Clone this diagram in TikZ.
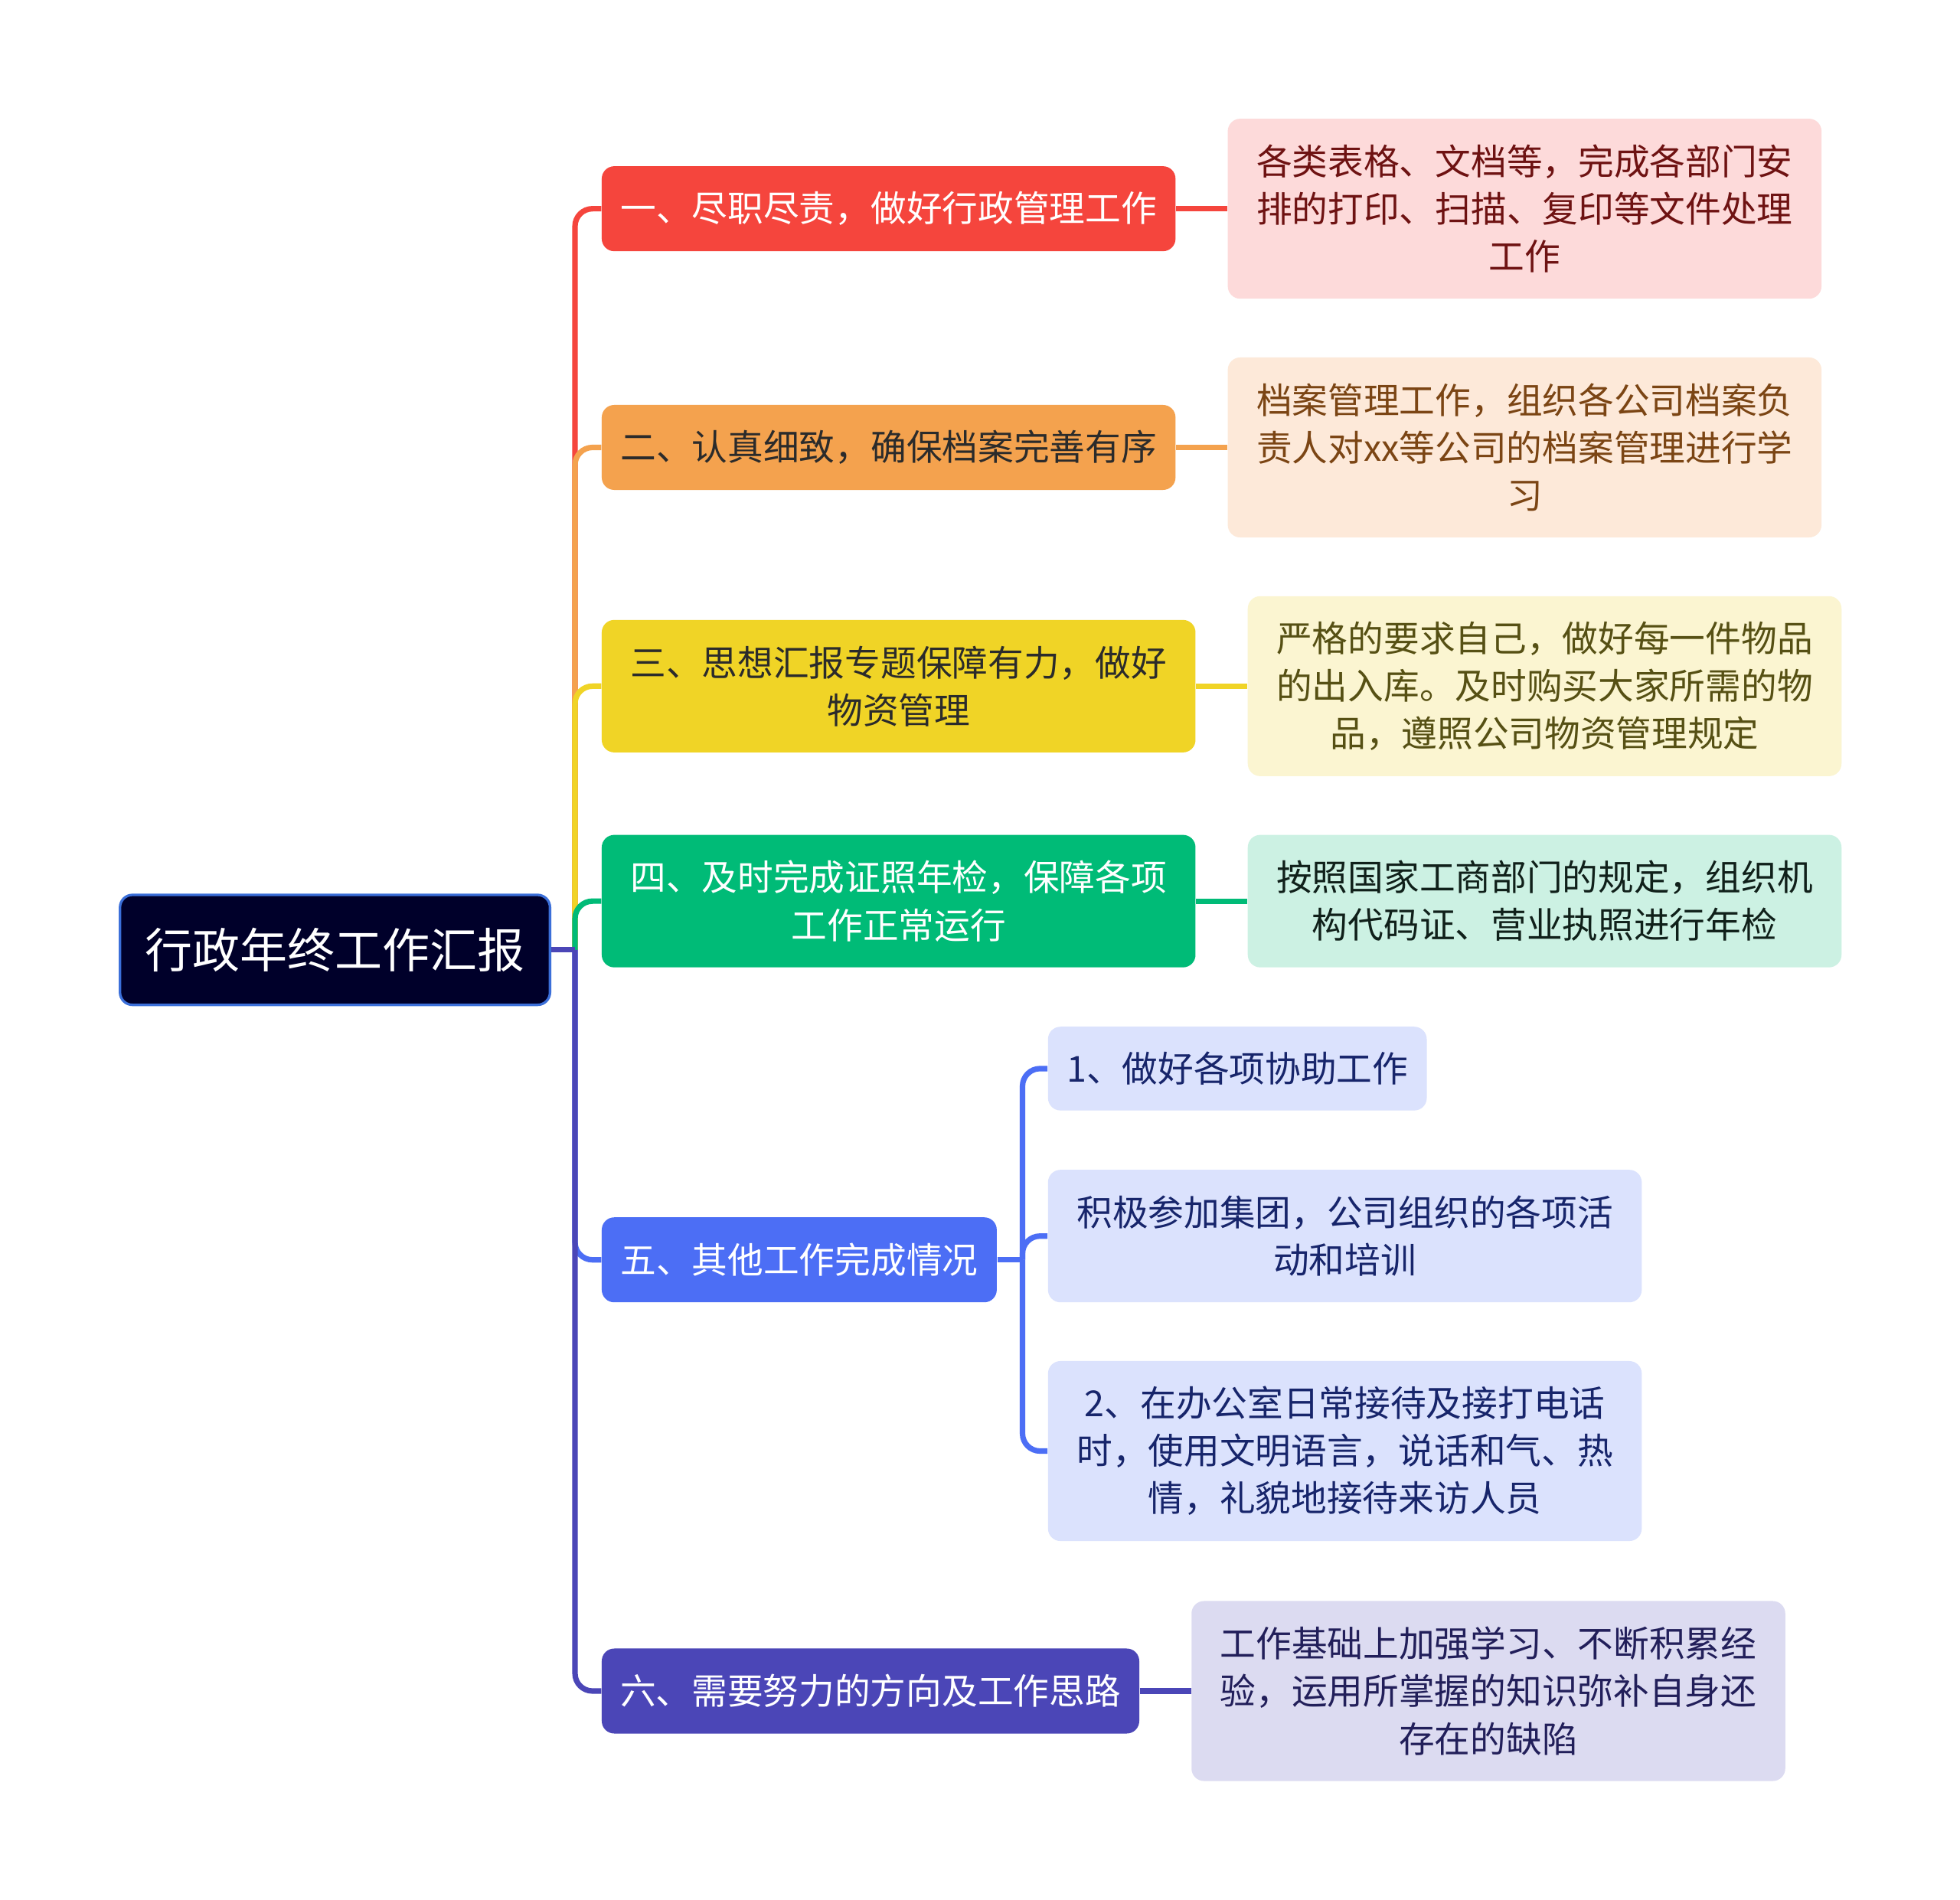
\documentclass[tikz,border=0pt]{standalone}
\usepackage{fontspec}
\usepackage{xcolor}
\usepackage{tikz}
\usetikzlibrary{positioning}
\newfontfamily\cjk{Noto Sans CJK SC}
\definecolor{xzRoot}{HTML}{00002A}
\definecolor{xzRootLine}{HTML}{3B6FD9}
\definecolor{xzDark}{HTML}{2B2B2B}
\definecolor{xzRed}{HTML}{F5453D}
\definecolor{xzOrange}{HTML}{F4A24E}
\definecolor{xzYellow}{HTML}{F0D426}
\definecolor{xzGreen}{HTML}{00BB77}
\definecolor{xzBlue}{HTML}{4C6EF5}
\definecolor{xzIndigo}{HTML}{4B46B7}
\definecolor{xzRedL}{HTML}{FDDADA}
\definecolor{xzOrangeL}{HTML}{FDE9D9}
\definecolor{xzYellowL}{HTML}{FBF5D1}
\definecolor{xzGreenL}{HTML}{CCF1E3}
\definecolor{xzBlueL}{HTML}{DBE2FD}
\definecolor{xzIndigoL}{HTML}{DCDBF1}
\definecolor{xzRedT}{HTML}{6E1212}
\definecolor{xzOrangeT}{HTML}{7B4514}
\definecolor{xzYellowT}{HTML}{565014}
\definecolor{xzGreenT}{HTML}{10201A}
\definecolor{xzBlueT}{HTML}{17256B}
\definecolor{xzIndigoT}{HTML}{221F5A}

\begin{document}
\begin{tikzpicture}[
  x=0.5pt, y=-0.5pt,
  every node/.style={align=center, font=\cjk, inner sep=0pt},
  root/.style={draw=xzRootLine, line width=1pt, fill=xzRoot, text=white, rounded corners=5pt, minimum width=172pt, minimum height=44pt, font=\cjk\fontsize{19}{23}\selectfont},
  branch/.style={fill=#1, rounded corners=5pt, minimum height=34pt, anchor=west, font=\cjk\fontsize{14.3}{19}\selectfont},
  leaf/.style={fill=#1, rounded corners=5pt, minimum width=237.5pt, font=\cjk\fontsize{14.3}{19}\selectfont},
  link/.style={draw=#1, line width=2.2pt},
  node distance=20.5pt,
]
  \fill[white] (0,0) rectangle (1568,1520);
  \useasboundingbox (0,0) rectangle (1568,1520);

  \node[root] (root) at (268,760) {行政年终工作汇报};
  \node[branch=xzRed, text=white, minimum width=229.5pt] (n1) at (481,167) {一、尽职尽责，做好行政管理工作};
  \node[branch=xzOrange, text=xzDark, minimum width=229.5pt] (n2) at (481,358) {二、认真细致，确保档案完善有序};
  \node[branch=xzYellow, text=xzDark, minimum width=237.5pt, minimum height=53pt] (n3) at (481,549) {三、思想汇报专题保障有力，做好\\物资管理};
  \node[branch=xzGreen, text=white, minimum width=237.5pt, minimum height=53pt] (n4) at (481,721) {四、及时完成证照年检，保障各项\\工作正常运行};
  \node[branch=xzBlue, text=white, minimum width=158pt] (n5) at (481,1008) {五、其他工作完成情况};
  \node[branch=xzIndigo, text=white, minimum width=215pt] (n6) at (481,1353) {六、需要努力的方向及工作思路};

  \node[leaf=xzRedL, text=xzRedT, minimum height=72pt, right=of n1] (l1) {各类表格、文档等，完成各部门安\\排的打印、扫描、复印等文件处理\\工作};
  \node[leaf=xzOrangeL, text=xzOrangeT, minimum height=72pt, right=of n2] (l2) {档案管理工作，组织各公司档案负\\责人对xx等公司的档案管理进行学\\习};
  \node[leaf=xzYellowL, text=xzYellowT, minimum height=72pt, right=of n3] (l3) {严格的要求自己，做好每一件物品\\的出入库。及时购买大家所需的物\\品，遵照公司物资管理规定};
  \node[leaf=xzGreenL, text=xzGreenT, minimum height=53pt, right=of n4] (l4) {按照国家工商部门的规定，组织机\\构代码证、营业执照进行年检};
  \node[leaf=xzBlueL, text=xzBlueT, minimum width=151.5pt, minimum height=33.5pt, anchor=west] (s1) at (838,855) {1、做好各项协助工作};
  \node[leaf=xzBlueL, text=xzBlueT, minimum height=53pt, anchor=west] (s2) at (838,989) {积极参加集团，公司组织的各项活\\动和培训};
  \node[leaf=xzBlueL, text=xzBlueT, minimum height=72pt, anchor=west] (s3) at (838,1161) {2、在办公室日常接待及接打电话\\时，使用文明语言，说话和气、热\\情，礼貌地接待来访人员};
  \node[leaf=xzIndigoL, text=xzIndigoT, minimum height=72pt, right=of n6] (l6) {工作基础上加强学习、不断积累经\\验，运用所掌握的知识弥补自身还\\存在的缺陷};

  \coordinate (hub) at (460,760);
  \coordinate (hub5) at (818,1008);
  \draw[link=xzRed, rounded corners=7pt] (hub) |- (n1.west);
  \draw[link=xzOrange, rounded corners=7pt] (hub) |- (n2.west);
  \draw[link=xzYellow, rounded corners=7pt] (hub) |- (n3.west);
  \draw[link=xzGreen, rounded corners=7pt] (hub) |- (n4.west);
  \draw[link=xzBlue, rounded corners=7pt] (hub) |- (n5.west);
  \draw[link=xzIndigo, rounded corners=7pt] (hub) |- (n6.west);
  \draw[link=xzIndigo] (root.east) -- (hub);

  \draw[link=xzRed] (n1) -- (l1);
  \draw[link=xzOrange] (n2) -- (l2);
  \draw[link=xzYellow] (n3) -- (l3);
  \draw[link=xzGreen] (n4) -- (l4);
  \draw[link=xzIndigo] (n6) -- (l6);

  \draw[link=xzBlue] (n5.east) -- (hub5);
  \draw[link=xzBlue, rounded corners=7pt] (hub5) |- (s1.west);
  \draw[link=xzBlue, rounded corners=7pt] (hub5) |- (s2.west);
  \draw[link=xzBlue, rounded corners=7pt] (hub5) |- (s3.west);
\end{tikzpicture}
\end{document}
